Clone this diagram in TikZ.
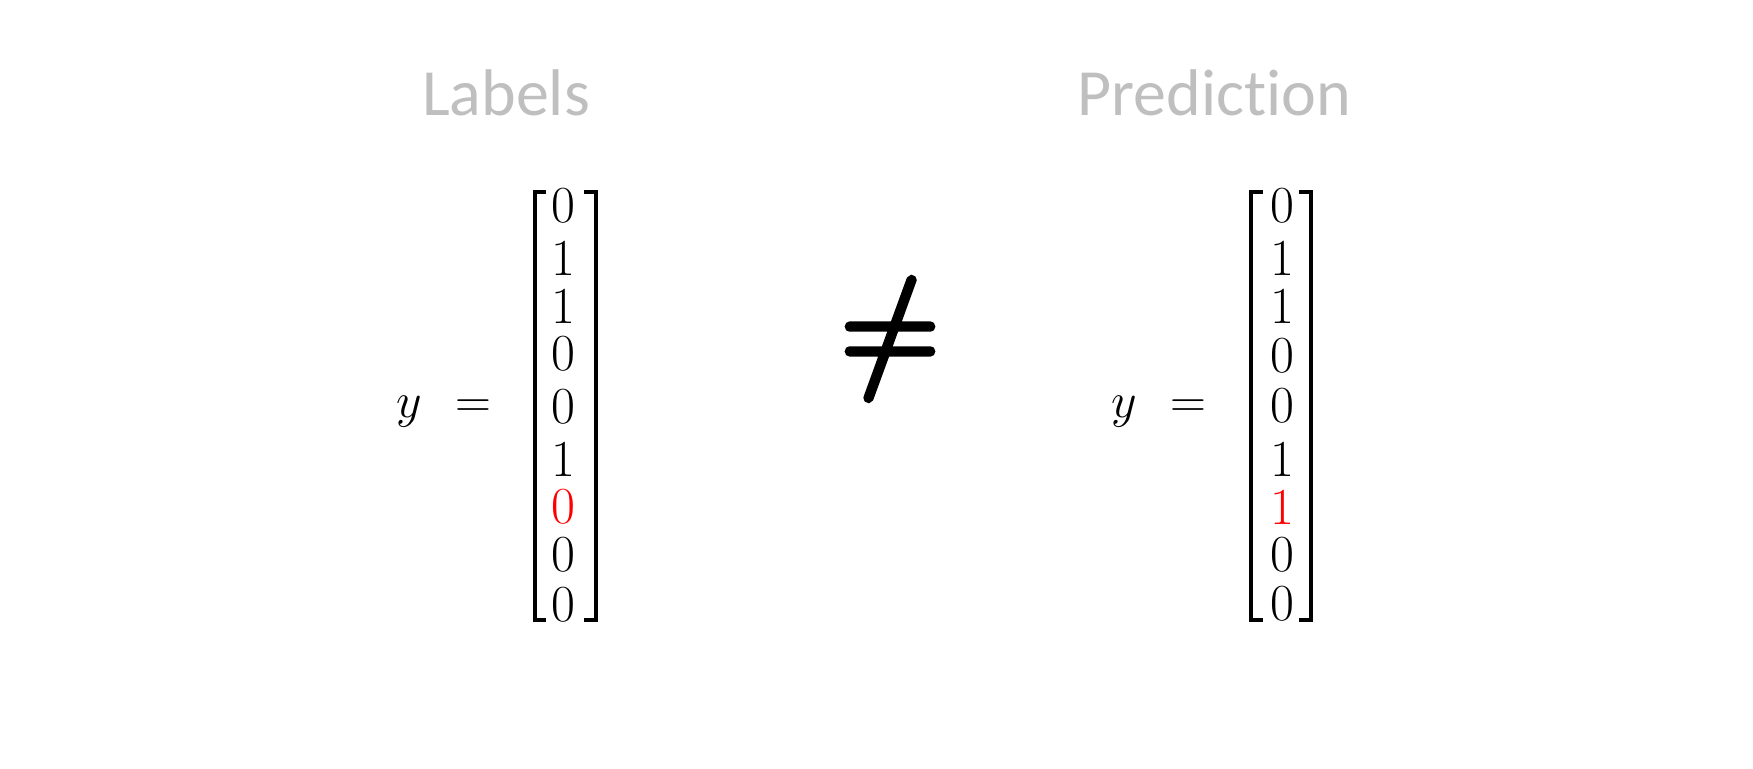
\documentclass[tikz,border=0pt]{standalone}
\usepackage{fontspec}
\newfontfamily\labfont{Carlito}[Ligatures={NoCommon}]
\newfontfamily\neqfont{Latin Modern Math}[FakeBold=4]
\definecolor{labgray}{HTML}{BFBFBF}
\begin{document}
\begin{tikzpicture}[x=0.5pt,y=-0.5pt,
  title/.style={font=\labfont\fontsize{33}{33}\selectfont, text=labgray, anchor=base, inner sep=0},
  entry/.style={font=\fontsize{26}{26}\selectfont, inner sep=0, anchor=center},
  wrong/.style={entry, text=red},
  mathlbl/.style={font=\fontsize{26}{26}\selectfont, inner sep=0, anchor=base},
  bracket/.style={line width=2pt, line join=miter},
  neqsign/.style={font=\neqfont\fontsize{64}{64}\selectfont, inner sep=0, anchor=base}]
\useasboundingbox (0,0) rectangle (1753,769);
% titles
\node[title] (tl) at (506,116) {Labels};
\node[title] (tr) at (1214,116) {Prediction};
% left vector
\node[mathlbl] (ly) at (409,418) {$y$};
\node[mathlbl] (leq) at (473,418) {$=$};
\foreach \v/\r [count=\i] in {0/206,1/258,1/306,0/354,0/407,1/459,0/507,0/555,0/605}{
  \ifnum\i=7
    \node[wrong] (l\i) at (563,\r) {\v};
  \else
    \node[entry] (l\i) at (563,\r) {\v};
  \fi
}
\draw[bracket] (546,192) -- (535,192) -- (535,620) -- (546,620);
\draw[bracket] (584,192) -- (595.5,192) -- (595.5,620) -- (584,620);
% not equal
\node[neqsign] (ne) at (890,371) {≠};
% right vector
\node[mathlbl] (ry) at (1124,418) {$y$};
\node[mathlbl] (req) at (1188,418) {$=$};
\foreach \v/\r [count=\i] in {0/206,1/258,1/306,0/356,0/406,1/459,1/507,0/555,0/604}{
  \ifnum\i=7
    \node[wrong] (r\i) at (1282,\r) {\v};
  \else
    \node[entry] (r\i) at (1282,\r) {\v};
  \fi
}
\draw[bracket] (1263,192) -- (1250.5,192) -- (1250.5,620) -- (1263,620);
\draw[bracket] (1299,192) -- (1310.5,192) -- (1310.5,620) -- (1299,620);
\end{tikzpicture}
\end{document}
